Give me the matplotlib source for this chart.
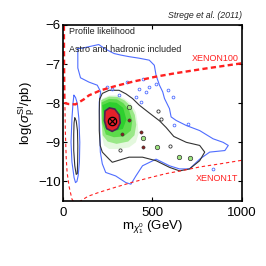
import numpy as np
import matplotlib
matplotlib.use("Agg")
from matplotlib import pyplot as plt

plt.rcParams['font.family'] = ['Liberation Sans', 'DejaVu Sans']
plt.rcParams['mathtext.fontset'] = 'custom'
plt.rcParams['mathtext.rm'] = 'Liberation Sans'
plt.rcParams['mathtext.it'] = 'Liberation Sans:italic'

# limit curves (mass in GeV, log10 sigma in pb)
xenon100_m = [5, 6, 8, 13, 30, 70, 117, 145, 211, 295, 390, 521, 633, 803, 1000]
xenon100_y = [-5.8, -7.0, -7.9, -8.0, -8.02, -8.03, -7.9, -7.8, -7.67, -7.56, -7.45, -7.32, -7.23, -7.11, -6.98]
xenon1t_m = [11, 13, 18, 23, 35, 50, 70, 98, 140, 201, 300, 389, 480, 577, 670, 765, 880, 1000]
xenon1t_y = [-8.1, -8.7, -9.4, -9.77, -10.15, -10.45, -10.6, -10.5, -10.38, -10.28, -10.14, -10.02, -9.91, -9.8, -9.72, -9.63, -9.55, -9.46]

# outer (blue) contour
blue_m = [83, 83, 98, 145, 192, 211, 203, 205, 209, 220, 239, 295, 352, 380, 408, 445, 521, 596,
          652, 708, 765, 821, 906, 925, 896, 840, 765, 690, 633, 605, 596, 568, 558, 540, 521,
          511, 483, 427, 370, 324, 286, 239, 200, 150, 100, 83]
blue_y = [-6.6, -7.1, -7.35, -7.46, -7.54, -7.71, -7.97, -8.57, -9.25, -9.55, -9.77, -9.86, -10.03,
          -10.07, -9.86, -9.6, -9.43, -9.6, -9.68, -9.68, -9.43, -9.25, -9.21, -9.08, -9.0, -8.91,
          -8.7, -8.57, -8.44, -8.35, -8.14, -7.88, -7.71, -7.54, -7.29, -7.03, -6.9, -6.85, -6.81,
          -6.77, -6.73, -6.62, -6.5, -6.55, -6.6, -6.6]

# black contour
black_m = [205, 220, 258, 314, 352, 389, 427, 483, 540, 577, 620, 690, 765, 793, 765, 708, 652,
           596, 521, 445, 370, 333, 276, 258, 220, 208, 203, 203, 205]
black_y = [-7.9, -7.75, -7.67, -7.67, -7.76, -7.88, -8.05, -8.25, -8.45, -8.62, -8.85, -9.0, -9.08,
           -9.25, -9.47, -9.68, -9.73, -9.64, -9.47, -9.38, -9.38, -9.43, -9.51, -9.43, -9.25,
           -9.08, -8.7, -8.2, -7.9]

# low mass island
island_blue_m = [61, 70, 80, 89, 94, 92, 85, 78, 70, 62, 50, 45, 50, 56, 61]
island_blue_y = [-7.8, -7.85, -8.0, -8.4, -9.0, -9.5, -9.85, -10.0, -10.03, -9.9, -9.5, -9.0, -8.4, -8.0, -7.8]
island_black_m = [66, 74, 81, 83, 82, 80, 74, 66, 60, 60, 62, 66]
island_black_y = [-8.38, -8.45, -8.7, -9.1, -9.5, -9.8, -9.82, -9.6, -9.2, -8.8, -8.5, -8.38]

# green shaded levels, outside to inside
green_colors = ['#e4f8de', '#9ae888', '#5cdb4a', '#2ecf2e']
green_m = [
    [220, 258, 305, 342, 380, 408, 417, 423, 408, 370, 314, 258, 230, 220, 216, 216],
    [214, 258, 305, 345, 380, 402, 410, 400, 365, 300, 250, 222, 215],
    [216, 258, 302, 338, 370, 388, 380, 340, 285, 240, 219],
    [220, 260, 300, 337, 355, 335, 280, 235],
]
green_y = [
    [-7.88, -7.8, -7.8, -7.88, -8.01, -8.23, -8.48, -8.78, -9.0, -9.13, -9.17, -9.17, -9.08, -8.87, -8.53, -8.1],
    [-7.92, -7.83, -7.84, -7.93, -8.08, -8.3, -8.55, -8.82, -8.98, -9.04, -8.98, -8.82, -8.4],
    [-7.98, -7.89, -7.9, -8.0, -8.18, -8.45, -8.7, -8.85, -8.87, -8.8, -8.5],
    [-8.05, -7.97, -7.99, -8.12, -8.42, -8.66, -8.72, -8.62],
]

# red core
red_m = [235, 260, 290, 315, 320, 305, 275, 245, 232, 235]
red_y = [-8.2, -8.12, -8.15, -8.3, -8.5, -8.65, -8.72, -8.65, -8.45, -8.2]
best_m = [272]
best_y = [-8.46]

# small features
gblob_m = [370, 450, 528, 650, 712]
gblob_y = [-8.1, -8.88, -9.12, -9.37, -9.41]
rdot_m = [370, 436, 445, 330]
rdot_y = [-8.44, -8.74, -9.12, -8.78]
bdot_m = [248, 276, 314, 408, 427, 436, 445, 465, 483, 521, 615, 624, 699, 840, 360, 590]
bdot_y = [-7.58, -7.63, -7.8, -7.84, -7.63, -7.97, -7.37, -7.71, -7.58, -7.5, -7.84, -8.57, -8.53, -9.68, -7.46, -7.65]
kloop_m = [530, 549, 320, 600]
kloop_y = [-8.2, -8.4, -9.2, -9.1]

fig = plt.figure(figsize=(2.66, 2.66), dpi=100)
ax = fig.add_axes([0.2368, 0.2444, 0.6718, 0.6617])

for gm, gy, c in zip(green_m, green_y, green_colors):
    ax.fill(gm, gy, color=c, lw=0)

ax.plot(blue_m, blue_y, color='#4f6dff', lw=0.8)
ax.plot(island_blue_m, island_blue_y, color='#4f6dff', lw=0.8)
ax.plot(black_m, black_y, color='#333333', lw=0.8)
ax.plot(island_black_m, island_black_y, color='#333333', lw=0.8)

ax.fill(red_m, red_y, facecolor='#e4202a', edgecolor='#4a2850', lw=1.2)
ax.plot(best_m, best_y, 'o', mfc='none', mec='black', ms=6, mew=0.9)
ax.plot(best_m, best_y, 'x', color='black', ms=4.5, mew=0.8)

ax.plot(gblob_m, gblob_y, 'o', mfc='#9ee57f', mec='#333333', ms=3.2, mew=0.5)
ax.plot(rdot_m, rdot_y, 'o', mfc='#8a2020', mec='#333333', ms=2.3, mew=0.4)
ax.plot(bdot_m, bdot_y, 'o', mfc='none', mec='#4f6dff', ms=2.0, mew=0.6)
ax.plot(kloop_m, kloop_y, 'o', mfc='none', mec='#333333', ms=2.3, mew=0.6)

ax.plot(xenon100_m, xenon100_y, color='#ff2020', lw=1.7, dashes=(2.2, 1.4))
ax.plot(xenon1t_m, xenon1t_y, color='#ff2020', lw=0.8, dashes=(3, 2.5))

ax.text(32, -6.16, 'Profile likelihood', fontsize=6.5, color='#222222', va='center')
ax.text(32, -6.62, 'Astro and hadronic included', fontsize=6.5, color='#222222', va='center')
ax.text(985, -6.86, 'XENON100', fontsize=6.5, color='#ff2020', ha='right', va='center')
ax.text(980, -9.92, 'XENON1T', fontsize=6.5, color='#ff2020', ha='right', va='center')
fig.text(242 / 266, 1 - 15 / 266, 'Strege et al. (2011)', fontsize=6.3, style='italic',
         color='#222222', ha='right', va='center')

ax.set_xlim(0, 1000)
ax.set_ylim(-10.5, -6)
ax.set_xticks([0, 500, 1000])
ax.set_yticks([-10, -9, -8, -7, -6])
ax.tick_params(direction='in', top=True, right=True, length=3, width=0.8, labelsize=9.5)
ax.tick_params(axis='y', pad=1.5)
ax.tick_params(axis='x', pad=4)
for s in ax.spines.values():
    s.set_linewidth(1.2)

ax.set_xlabel(r'm$_{\chi^\mathregular{0}_\mathregular{1}}$ (GeV)', fontsize=9.5, labelpad=0)
ax.set_ylabel(r'log($\sigma^\mathregular{SI}_\mathregular{p}$/pb)', fontsize=9.5, labelpad=1)

fig.savefig('out.png', dpi=100)
